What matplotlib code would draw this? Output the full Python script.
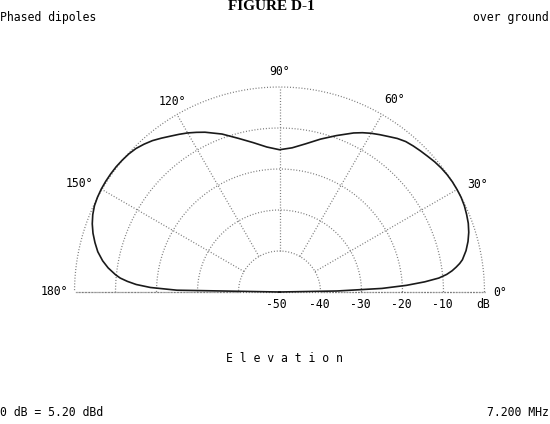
import numpy as np
import matplotlib
matplotlib.use("Agg")
import matplotlib.pyplot as plt
from matplotlib import transforms

# ---- data ----
angles_deg = [0, 1, 2, 3, 4, 5, 6, 7, 8, 9, 10, 12.5, 15, 17.5, 20, 22.5, 25, 27.5, 30,
              32.5, 35, 37.5, 40, 42.5, 45, 47.5, 50, 52.5, 55, 57.5, 60, 62.5, 65, 70,
              75, 80, 85, 90, 95, 100, 105, 110, 115, 117.5, 120, 122.5, 125, 127.5, 130,
              132.5, 135, 137.5, 140, 142.5, 145, 147.5, 150, 152.5, 155, 157.5, 160,
              162.5, 165, 167.5, 170, 172, 174, 175, 176, 177, 178, 179, 180]
gain_db = [-50, -36, -25, -19, -14.5, -11, -9, -7.6, -6.5, -5.5, -4.7, -3.4, -2.4, -1.6,
           -1.0, -0.6, -0.25, -0.05, 0.0, 0.0, -0.1, -0.3, -0.6, -1.0, -1.35, -1.7, -2.1,
           -2.8, -3.7, -4.5, -5.3, -6.2, -7.2, -9.4, -11.4, -13.3, -14.7, -15.3, -14.5,
           -13.0, -11.2, -9.0, -7.0, -6.1, -5.2, -4.4, -3.6, -2.7, -1.8, -1.1, -0.5,
           -0.15, 0.05, 0.2, 0.25, 0.25, 0.2, 0.05, -0.2, -0.7, -1.4, -2.3, -3.4, -4.6,
           -6.2, -7.8, -9.8, -11.0, -12.8, -15.0, -18.5, -25.0, -50]
ring_db = [-40, -30, -20, -10, 0]
ring_labels = ["-40", "-30", "-20", "-10", "dB"]
center_label = "-50"
spoke_deg = [0, 30, 60, 90, 120, 150, 180]
spoke_labels = ["0°", "30°", "60°", "90°", "120°", "150°", "180°"]

title = "FIGURE D-1"
top_left = "Phased dipoles"
top_right = "over ground"
axis_title = "E l e v a t i o n"
bottom_left = "0 dB = 5.20 dBd"
bottom_right = "7.200 MHz"

DB_MIN = -50.0

W, H = 550, 424
fig = plt.figure(figsize=(W / 100, H / 100), dpi=100)
fig.patch.set_facecolor("white")

# axes spanning the figure; data units = dB above the -50 dB centre
cx, cy, R = 279.5, 292.0, 205.0
ax = fig.add_axes([0, 0, 1, 1])
k = -DB_MIN / R
ax.set_xlim(-cx * k, (W - cx) * k)
ax.set_ylim(-(H - cy) * k, cy * k)
ax.axis("off")


def to_xy(theta_deg, db):
    th = np.radians(np.asarray(theta_deg, dtype=float))
    r = np.asarray(db, dtype=float) - DB_MIN
    return r * np.cos(th), r * np.sin(th)


grid_col = "#7a7a7a"
dots = (0, (0.8, 1.5))
th_full = np.linspace(0, 180, 361)
for rv in ring_db:
    x, y = to_xy(th_full, np.full_like(th_full, rv))
    ax.plot(x, y, color=grid_col, lw=0.9, linestyle=dots, zorder=1)
for a in spoke_deg:
    x, y = to_xy([a, a], [ring_db[0], 0])
    ax.plot(x, y, color=grid_col, lw=0.9, linestyle=dots, zorder=1)
x, y = to_xy([0, 180], [0, 0])
ax.plot(x, y, color=grid_col, lw=0.9, linestyle=dots, zorder=1)

# pattern
px, py = to_xy(angles_deg, gain_db)
ax.plot(px, py, color="#1a1a1a", lw=1.2, zorder=3, solid_joinstyle="round")

mono = "DejaVu Sans Mono"
fs = 8.3
# angle labels
lab_r = {30: 5.0, 60: 4.6, 90: 3.7, 120: 3.4, 150: 5.6}
lab_dth = {30: -1.5, 60: -0.8, 90: 0, 120: -0.6, 150: 1.5}
for a, lab in zip(spoke_deg, spoke_labels):
    if a == 0:
        t = transforms.offset_copy(ax.transData, fig=fig, x=9, y=0, units="dots")
        x, y = to_xy([0], [0])
        ax.text(x[0], y[0], lab, transform=t, ha="left", va="center", family=mono, fontsize=fs)
    elif a == 180:
        t = transforms.offset_copy(ax.transData, fig=fig, x=-6, y=0, units="dots")
        x, y = to_xy([180], [0])
        ax.text(x[0], y[0], lab, transform=t, ha="right", va="center", family=mono, fontsize=fs)
    else:
        x, y = to_xy([a + lab_dth[a]], [lab_r[a]])
        ax.text(x[0], y[0], lab, ha="center", va="center", family=mono, fontsize=fs)

# dB labels
t_db = transforms.offset_copy(ax.transData, fig=fig, x=-1, y=-13, units="dots")
for rv, lab in zip(ring_db, ring_labels):
    x, y = to_xy([0], [rv])
    ax.text(x[0], y[0], lab, transform=t_db, ha="center", va="center", family=mono, fontsize=fs)
t_c = transforms.offset_copy(ax.transData, fig=fig, x=-3, y=-13, units="dots")
ax.text(0, 0, center_label, transform=t_c, ha="center", va="center", family=mono, fontsize=fs)


def fx(x):
    return x / W


def fy(y):
    return 1 - y / H


fig.text(fx(271), fy(6), title, ha="center", va="center", family="Liberation Serif",
         fontweight="bold", fontsize=11)
fig.text(fx(0), fy(18), top_left, ha="left", va="center", family=mono, fontsize=fs)
fig.text(fx(549), fy(18), top_right, ha="right", va="center", family=mono, fontsize=fs)
fig.text(fx(284), fy(358), axis_title, ha="center", va="center", family=mono, fontsize=fs)
fig.text(fx(0), fy(412), bottom_left, ha="left", va="center", family=mono, fontsize=fs)
fig.text(fx(549), fy(412), bottom_right, ha="right", va="center", family=mono, fontsize=fs)

fig.savefig("out.png", dpi=100, facecolor="white")
